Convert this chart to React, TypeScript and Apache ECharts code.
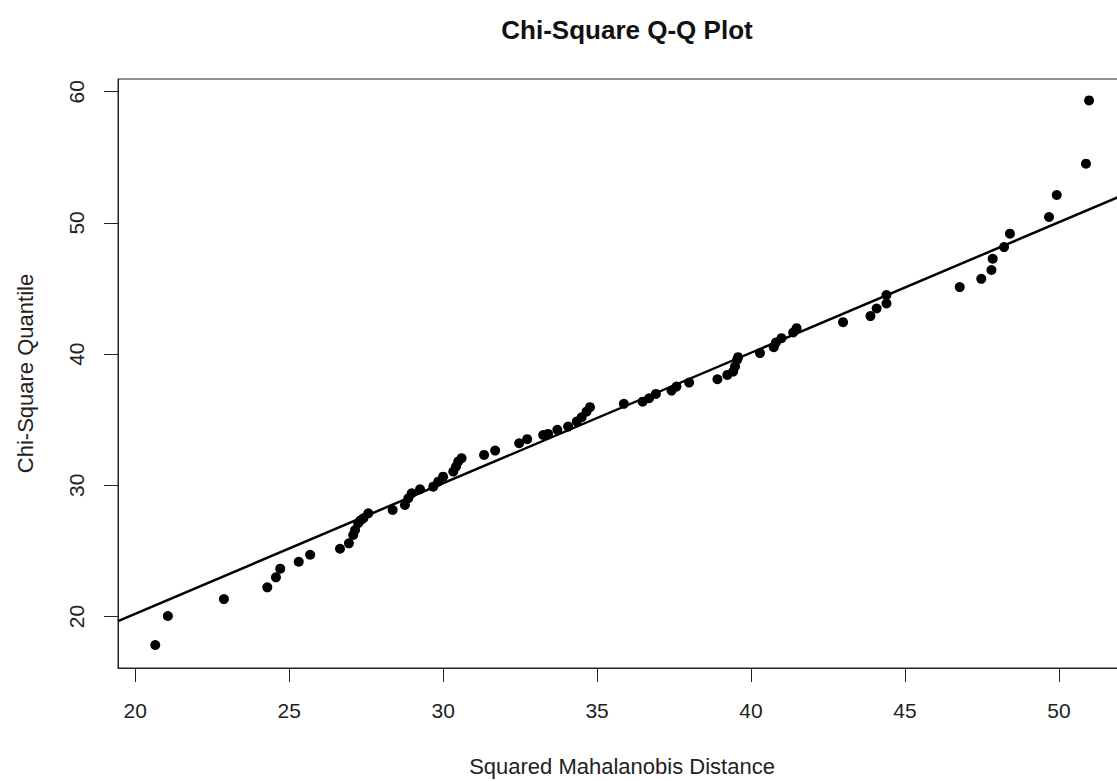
import React, { useEffect, useRef } from "react";
import * as echarts from "echarts";

// Squared Mahalanobis distance (x) vs chi-square quantile (y)
const distances: number[] = [
  20.65, 21.06, 22.88, 24.29, 24.57, 24.71, 25.31, 25.68, 26.65, 26.94,
  27.08, 27.14, 27.24, 27.31, 27.41, 27.57, 28.36, 28.76, 28.87, 28.98,
  29.25, 29.68, 29.84, 30.0, 30.33, 30.42, 30.49, 30.6, 31.33, 31.69,
  32.47, 32.73, 33.25, 33.41, 33.71, 34.06, 34.34, 34.5, 34.66, 34.77,
  35.87, 36.48, 36.69, 36.91, 37.42, 37.58, 37.99, 38.91, 39.23, 39.42,
  39.48, 39.55, 39.58, 40.29, 40.74, 40.81, 40.99, 41.37, 41.48, 42.99,
  43.88, 44.08, 44.4, 44.4, 46.78, 47.48, 47.81, 47.85, 48.22, 48.41,
  49.68, 49.93, 50.88, 50.98,
];
const quantiles: number[] = [
  17.83, 20.04, 21.33, 22.23, 22.99, 23.65, 24.18, 24.71, 25.17, 25.58,
  26.22, 26.6, 27.11, 27.32, 27.49, 27.87, 28.12, 28.5, 29.02, 29.4,
  29.7, 29.9, 30.28, 30.66, 31.05, 31.43, 31.81, 32.07, 32.32, 32.65,
  33.21, 33.52, 33.84, 33.92, 34.23, 34.48, 34.86, 35.19, 35.62, 35.96,
  36.21, 36.38, 36.64, 36.97, 37.22, 37.53, 37.83, 38.09, 38.42, 38.67,
  39.05, 39.57, 39.77, 40.08, 40.53, 40.89, 41.22, 41.65, 41.98, 42.44,
  42.9, 43.48, 43.86, 44.5, 45.11, 45.74, 46.41, 47.27, 48.16, 49.18,
  50.45, 52.13, 54.52, 59.34,
];
// Reference (Q-Q) line end points
const refLineX: number[] = [19.44, 52.18];
const refLineY: number[] = [19.66, 52.22];

const xTicks: number[] = [20, 25, 30, 35, 40, 45, 50];
const yTicks: number[] = [20, 30, 40, 50, 60];

const titleText = "Chi-Square Q-Q Plot";
const xName = "Squared Mahalanobis Distance";
const yName = "Chi-Square Quantile";

export default function App() {
  const ref = useRef<HTMLDivElement>(null);
  useEffect(() => {
    document.body.style.margin = "0";
    if (!ref.current) return;
    const chart = echarts.init(ref.current, undefined, { renderer: "svg" });
    const font = "'Liberation Sans', Arial, sans-serif";
    const points = distances.map((d, i) => [d, quantiles[i]]);
    const linePts = refLineX.map((x, i) => [x, refLineY[i]]);
    chart.setOption({
      animation: false,
      backgroundColor: "#ffffff",
      title: {
        text: titleText,
        left: 622,
        top: 12,
        textAlign: "center",
        textStyle: { fontFamily: font, fontSize: 26, fontWeight: "bold", color: "#111" },
      },
      grid: {
        left: 118,
        top: 79,
        right: -9,
        bottom: 113,
        outerBoundsMode: "none",
        containLabel: false,
        show: true,
        borderColor: "#222",
        borderWidth: 1,
        backgroundColor: "transparent",
      },
      xAxis: {
        type: "value",
        min: 19.44,
        max: 52.18,
        name: xName,
        nameLocation: "middle",
        nameGap: 87,
        nameTextStyle: { fontFamily: font, fontSize: 22, color: "#222" },
        axisLine: { show: true, lineStyle: { color: "#222", width: 1 } },
        axisTick: { show: true, length: 14, inside: false, customValues: xTicks, lineStyle: { color: "#222" } },
        axisLabel: { customValues: xTicks, margin: 32, fontFamily: font, fontSize: 21, color: "#222" },
        splitLine: { show: false },
      },
      yAxis: {
        type: "value",
        min: 16.08,
        max: 60.97,
        name: yName,
        nameLocation: "middle",
        nameGap: 82,
        nameRotate: 90,
        nameTextStyle: { fontFamily: font, fontSize: 22, color: "#222" },
        axisLine: { show: true, lineStyle: { color: "#222", width: 1 } },
        axisTick: { show: true, length: 14, inside: false, customValues: yTicks, lineStyle: { color: "#222" } },
        axisLabel: { customValues: yTicks, rotate: 90, margin: 31, fontFamily: font, fontSize: 21, color: "#222" },
        splitLine: { show: false },
      },
      series: [
        {
          type: "line",
          data: linePts,
          symbol: "none",
          clip: true,
          lineStyle: { color: "#000", width: 2.5 },
          z: 2,
        },
        {
          type: "scatter",
          data: points,
          symbol: "circle",
          symbolSize: 10,
          itemStyle: { color: "#000", opacity: 1 },
          z: 3,
        },
      ],
    });
    return () => chart.dispose();
  }, []);
  return <div ref={ref} style={{ width: 1117, height: 781 }} />;
}
